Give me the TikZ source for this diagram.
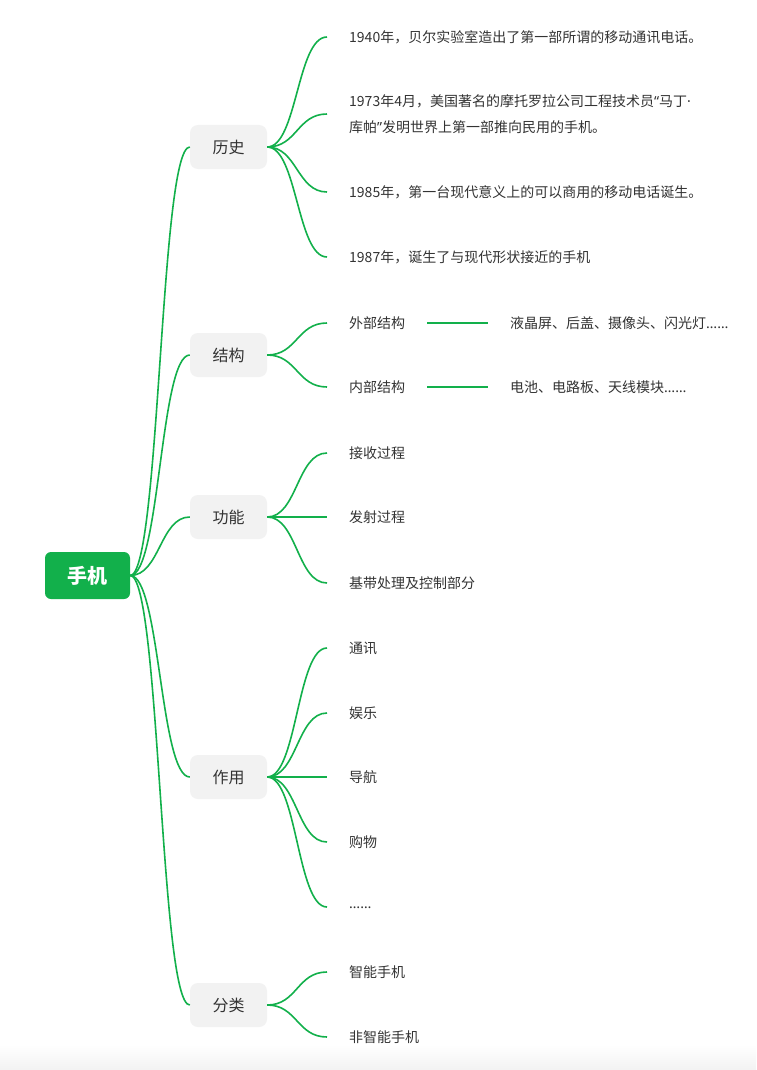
\documentclass[tikz,border=0pt]{standalone}
\usepackage{fontspec}
\setmainfont{Noto Sans CJK SC}
\newfontfamily\latinf{Noto Sans}
\usetikzlibrary{calc}
\definecolor{mgreen}{HTML}{12B04B}
\definecolor{bgray}{HTML}{F2F2F2}
\definecolor{txt}{HTML}{333333}
\newcommand\mlink[2]{\draw[link] let \p1=(#1), \p2=(#2) in (\p1) .. controls ({0.5*\x1+0.5*\x2},\y1) and ({0.5*\x1+0.5*\x2},\y2) .. (\p2);}
\begin{document}
\begin{tikzpicture}[x=1pt,y=-1pt,
  link/.style={draw=mgreen, line width=1.6pt},
  rootbox/.style={fill=mgreen, rounded corners=6pt, minimum width=85pt, minimum height=47pt, inner sep=0pt, text=white, font=\fontsize{20}{24}\selectfont\bfseries},
  branch/.style={fill=bgray, rounded corners=8pt, minimum width=77pt, minimum height=44pt, inner sep=0pt, text=txt, font=\fontsize{16}{20}\selectfont},
  leaf/.style={anchor=west, inner xsep=22pt, inner ysep=0pt, text=txt, align=left, font=\fontsize{14}{26}\selectfont}]
\path[use as bounding box, fill=white] (0,0) rectangle (756,1070);
\shade[top color=white, bottom color=black!5] (0,1045) rectangle (756,1070);

\node[rootbox] (root) at (87.5,575.5) {手机};

\node[branch] (b1) at (228.5,147) {历史};
\node[branch] (b2) at (228.5,355) {结构};
\node[branch] (b3) at (228.5,517) {功能};
\node[branch] (b4) at (228.5,777) {作用};
\node[branch] (b5) at (228.5,1005) {分类};

\node[leaf] (h1) at (327,37) {1940年，贝尔实验室造出了第一部所谓的移动通讯电话。};
\node[leaf] (h2) at (327,114) {1973年4月，美国著名的摩托罗拉公司工程技术员{\latinf “}马丁{\latinf ·}\\库帕{\latinf ”}发明世界上第一部推向民用的手机。};
\node[leaf] (h3) at (327,192) {1985年，第一台现代意义上的可以商用的移动电话诞生。};
\node[leaf] (h4) at (327,257) {1987年，诞生了与现代形状接近的手机};

\node[leaf] (s1) at (327,323) {外部结构};
\node[leaf] (s1r) at (488,323) {液晶屏、后盖、摄像头、闪光灯{\latinf ……}};
\node[leaf] (s2) at (327,387) {内部结构};
\node[leaf] (s2r) at (488,387) {电池、电路板、天线模块{\latinf ……}};

\node[leaf] (f1) at (327,453) {接收过程};
\node[leaf] (f2) at (327,517) {发射过程};
\node[leaf] (f3) at (327,583) {基带处理及控制部分};

\node[leaf] (z1) at (327,648) {通讯};
\node[leaf] (z2) at (327,713) {娱乐};
\node[leaf] (z3) at (327,777) {导航};
\node[leaf] (z4) at (327,842) {购物};
\node[leaf] (z5) at (327,907) {\raisebox{-3pt}{\latinf ……}};

\node[leaf] (c1) at (327,972) {智能手机};
\node[leaf] (c2) at (327,1037) {非智能手机};

\foreach \b in {b1,b2,b3,b4,b5} {\mlink{root.east}{\b.west}}
\foreach \l in {h1,h2,h3,h4} {\mlink{b1.east}{\l.west}}
\foreach \l in {s1,s2} {\mlink{b2.east}{\l.west}}
\foreach \l in {f1,f2,f3} {\mlink{b3.east}{\l.west}}
\foreach \l in {z1,z2,z3,z4,z5} {\mlink{b4.east}{\l.west}}
\foreach \l in {c1,c2} {\mlink{b5.east}{\l.west}}
\draw[link] (s1.east) -- (s1r.west);
\draw[link] (s2.east) -- (s2r.west);
\end{tikzpicture}
\end{document}
